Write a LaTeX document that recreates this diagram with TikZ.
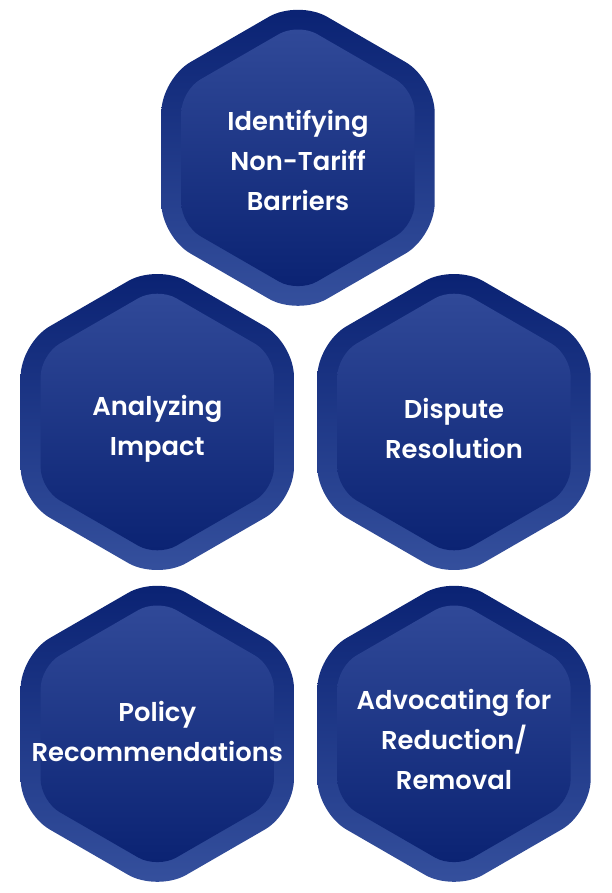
\documentclass[tikz,border=0pt]{standalone}
\usepackage{fontspec}
\setmainfont{Poppins}[UprightFont={* SemiBold}, BoldFont={* Bold}]
\definecolor{ringtop}{RGB}{9,33,114}
\definecolor{ringbot}{RGB}{54,81,158}
\definecolor{innertop}{RGB}{49,74,153}
\definecolor{innerbot}{RGB}{10,34,114}
\tikzset{
  ringshape/.style={top color=ringtop, bottom color=ringbot, rounded corners=33.5pt},
  innershape/.style={top color=innertop, bottom color=innerbot, rounded corners=21.9pt},
  hextext/.style={text=white, align=center, font=\fontsize{25.8}{40}\selectfont, inner sep=0pt}
}
\newcommand{\hexcell}[5]{%
  \begin{scope}[shift={(#2,#3)}]
    \shade[ringshape] (136.65,0) -- (30:157.8) -- (90:157.8) -- (150:157.8) -- (210:157.8) -- (270:157.8) -- (330:157.8) -- cycle;
    \shade[innershape] (116.65,0) -- (30:134.7) -- (90:134.7) -- (150:134.7) -- (210:134.7) -- (270:134.7) -- (330:134.7) -- cycle;
    \node[hextext] (#1) at (0,#4) {#5};
  \end{scope}}
\begin{document}
\begin{tikzpicture}[x=1pt,y=-1pt]
  \useasboundingbox (0,0) rectangle (612,893);
  \hexcell{ident}{298}{157.8}{2.5}{Identifying\\Non-Tariff\\Barriers}
  \hexcell{analyze}{157.3}{422}{6.5}{Analyzing\\Impact}
  \hexcell{dispute}{454}{422}{6.5}{Dispute\\Resolution}
  \hexcell{policy}{157.3}{733.8}{-2.5}{Policy\\Recommendations}
  \hexcell{advocate}{454}{733.8}{5.5}{Advocating for\\Reduction/\\Removal}
\end{tikzpicture}
\end{document}
